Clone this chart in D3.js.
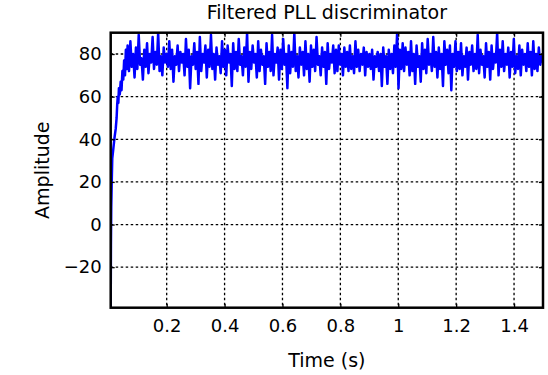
<!DOCTYPE html>
<html>
<head>
<meta charset="utf-8">
<script src="https://cdn.jsdelivr.net/npm/d3@7"></script>
<style>
  html, body { margin: 0; padding: 0; background: #fff; }
  svg text { font-family: "DejaVu Sans", "Liberation Sans", sans-serif; fill: #000; }
</style>
</head>
<body>
<svg id="chart" width="548" height="375"></svg>
<script>
// Start-up transient of the discriminator output (time in s, amplitude)
const riseTime = [0.0066, 0.0074, 0.0085, 0.0105, 0.012, 0.016, 0.020, 0.024, 0.027, 0.029, 0.031,
                  0.033, 0.035, 0.038, 0.041, 0.044, 0.047, 0.050, 0.053, 0.056, 0.059, 0.062];
const riseAmp  = [-39, -10, 8, 22, 31, 36, 41, 45, 50, 56, 60,
                  57, 64, 61, 67, 63, 72, 68, 77, 70, 82, 73];

// Locked-state output, uniformly sampled from lockStart to lockEnd
const lockStart = 0.065;
const lockEnd = 1.5;
const lockAmp = [
  84, 72, 86, 74, 80, 69, 83, 73, 89, 75,
  78, 68, 82, 74, 85, 71, 80, 76, 88, 73,
  81, 75, 90, 72, 79, 70, 83, 76, 80, 74,
  86, 73, 82, 67, 79, 75, 84, 72, 81, 76,
  80, 70, 87, 74, 82, 64, 79, 75, 85, 73,
  81, 66, 88, 72, 80, 76, 84, 69, 82, 74,
  89, 73, 80, 68, 83, 75, 79, 71, 86, 74,
  82, 70, 84, 76, 80, 65, 85, 73, 81, 72,
  87, 75, 79, 70, 83, 74, 90, 67, 81, 73,
  84, 76, 80, 69, 86, 72, 82, 75, 79, 66,
  85, 74, 81, 72, 89, 70, 80, 76, 83, 68,
  82, 73, 87, 75, 80, 64, 84, 71, 81, 74,
  90, 72, 79, 69, 83, 75, 81, 70, 86, 73,
  80, 67, 84, 74, 82, 72, 88, 75, 79, 70,
  83, 74, 81, 66, 85, 73, 80, 76, 84, 71,
  82, 72, 84, 75, 80, 70, 83, 74, 81, 72,
  84, 73, 79, 71, 86, 74, 82, 72, 80, 75,
  83, 70, 81, 74, 80, 73, 82, 68, 79, 74,
  81, 72, 80, 65, 83, 74, 79, 66, 82, 73,
  80, 71, 84, 74, 90, 64, 82, 73, 85, 72,
  83, 75, 81, 70, 86, 72, 80, 66, 84, 74,
  79, 67, 85, 73, 82, 71, 87, 75, 80, 72,
  88, 74, 81, 69, 83, 73, 80, 65, 86, 75,
  82, 71, 84, 63, 80, 74, 86, 72, 81, 73,
  85, 70, 79, 74, 83, 68, 81, 75, 84, 72,
  80, 73, 89, 71, 82, 75, 79, 69, 85, 74,
  81, 68, 84, 73, 80, 76, 90, 70, 82, 74,
  86, 72, 80, 75, 83, 69, 81, 74, 87, 71,
  79, 73, 84, 70, 82, 75, 80, 72, 85, 74,
  81, 70, 86, 73, 80, 72, 83, 75, 79, 76
];

const xTicks = [0.2, 0.4, 0.6, 0.8, 1, 1.2, 1.4];
const yTicks = [-20, 0, 20, 40, 60, 80];
const xDomain = [0.0066, 1.5];
const yDomain = [-39, 90];

const titleText = "Filtered PLL discriminator";
const xLabelText = "Time (s)";
const yLabelText = "Amplitude";

// Build the sample list
const lockStep = (lockEnd - lockStart) / (lockAmp.length - 1);
const samples = riseTime.map((t, i) => ({ t, v: riseAmp[i] }))
  .concat(lockAmp.map((v, i) => ({ t: lockStart + i * lockStep, v })));

const svg = d3.select("#chart");
const plot = { left: 110.7, right: 543, top: 32.7, bottom: 307.7 };

const x = d3.scaleLinear().domain(xDomain).range([plot.left, plot.right]);
const y = d3.scaleLinear().domain(yDomain).range([plot.bottom, plot.top]);

// Dotted grid
const grid = svg.append("g").attr("stroke", "#000").attr("stroke-width", 1.3)
  .attr("stroke-dasharray", "2.5,2.5");
grid.selectAll("line.gx").data(xTicks).join("line")
  .attr("x1", d => x(d)).attr("x2", d => x(d))
  .attr("y1", plot.top).attr("y2", plot.bottom);
grid.selectAll("line.gy").data(yTicks).join("line")
  .attr("y1", d => y(d)).attr("y2", d => y(d))
  .attr("x1", plot.left).attr("x2", plot.right);

// Signal
svg.append("clipPath").attr("id", "clip").append("rect")
  .attr("x", plot.left).attr("y", plot.top)
  .attr("width", plot.right - plot.left).attr("height", plot.bottom - plot.top);

const line = d3.line().x(d => x(d.t)).y(d => y(d.v));
svg.append("path")
  .datum(samples)
  .attr("clip-path", "url(#clip)")
  .attr("fill", "none")
  .attr("stroke", "#0000ff")
  .attr("stroke-width", 2.5)
  .attr("stroke-linejoin", "round")
  .attr("d", line);

// Axes with inward ticks on all four sides
const tickLen = 4;
const fmt = d => d < 0 ? "\u2212" + Math.abs(d) : String(d);

const bottomAxis = d3.axisBottom(x).tickValues(xTicks).tickSizeInner(-tickLen).tickSizeOuter(0)
  .tickPadding(12).tickFormat(fmt);
const leftAxis = d3.axisLeft(y).tickValues(yTicks).tickSizeInner(-tickLen).tickSizeOuter(0)
  .tickPadding(9).tickFormat(fmt);
const topAxis = d3.axisTop(x).tickValues(xTicks).tickSizeInner(-tickLen).tickSizeOuter(0).tickFormat("");
const rightAxis = d3.axisRight(y).tickValues(yTicks).tickSizeInner(-tickLen).tickSizeOuter(0).tickFormat("");

function styleAxis(g) {
  g.select(".domain").remove();
  g.selectAll(".tick line").attr("stroke", "#000").attr("stroke-width", 1.3);
  g.selectAll(".tick text").attr("font-size", 18).attr("fill", "#000");
}

svg.append("g").attr("transform", `translate(0,${plot.bottom})`).call(bottomAxis).call(styleAxis);
svg.append("g").attr("transform", `translate(${plot.left},0)`).call(leftAxis).call(styleAxis);
svg.append("g").attr("transform", `translate(0,${plot.top})`).call(topAxis).call(styleAxis);
svg.append("g").attr("transform", `translate(${plot.right},0)`).call(rightAxis).call(styleAxis);

// Frame
svg.append("rect")
  .attr("x", plot.left).attr("y", plot.top)
  .attr("width", plot.right - plot.left).attr("height", plot.bottom - plot.top)
  .attr("fill", "none").attr("stroke", "#000").attr("stroke-width", 2.5);

// Titles
const cx = (plot.left + plot.right) / 2;
svg.append("text").attr("x", cx).attr("y", 19).attr("text-anchor", "middle")
  .attr("font-size", 19).text(titleText);
svg.append("text").attr("x", cx).attr("y", 367).attr("text-anchor", "middle")
  .attr("font-size", 19).text(xLabelText);
svg.append("text").attr("transform", `translate(49,${(plot.top + plot.bottom) / 2}) rotate(-90)`)
  .attr("text-anchor", "middle").attr("font-size", 19).text(yLabelText);
</script>
</body>
</html>
